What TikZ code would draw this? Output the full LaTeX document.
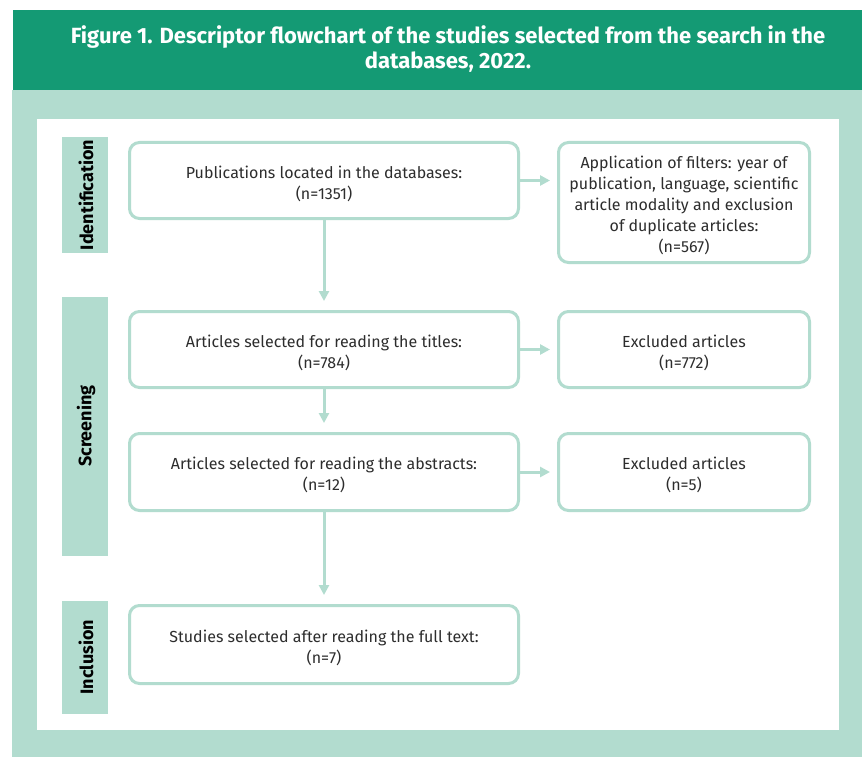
\documentclass[tikz,border=0pt]{standalone}
\usepackage{fontspec}
\setmainfont{Fira Sans}
\usetikzlibrary{arrows.meta}
\definecolor{hdrgreen}{RGB}{20,154,116}
\definecolor{mint}{RGB}{178,220,207}
\definecolor{txt}{RGB}{45,45,45}
\begin{document}
\begin{tikzpicture}[x=1pt,y=-1pt,
  flowbox/.style={draw=mint,line width=3pt,rounded corners=10pt,fill=white,inner sep=0pt},
  flowtext/.style={align=center,text=txt,font=\fontsize{16}{21}\selectfont,inner sep=0pt,yshift=-3pt},
  stagebar/.style={fill=mint,inner sep=0pt},
  stagetext/.style={rotate=90,font=\fontsize{18}{20}\selectfont\bfseries,text=black},
  flowarrow/.style={draw=mint,line width=3pt,-{Triangle[length=10pt,width=10pt]}}]
\useasboundingbox (0,0) rectangle (862,757);
% background panels
\fill[mint] (12,90) rectangle (862,757);
\fill[hdrgreen] (13,10) rectangle (862,90);
\fill[white] (37,119) rectangle (839,730);
\node[text=white,align=center,font=\fontsize{22}{25}\selectfont\bfseries] (title) at (448,49)
  {Figure 1. Descriptor flowchart of the studies selected from the search in the\\databases, 2022.};
% stage bars
\fill[stagebar] (62,137) rectangle (108,253);
\fill[stagebar] (62,297) rectangle (108,556);
\fill[stagebar] (62,601) rectangle (108,714);
\node[stagetext] (sid) at (86,195) {Identification};
\node[stagetext] (ssc) at (86,426) {Screening};
\node[stagetext] (sin) at (86,657) {Inclusion};
% main boxes
\node[flowbox,minimum width=389pt,minimum height=76pt,
  label={[flowtext]center:Publications located in the databases:\\(n=1351)}] (b1) at (324,180.5) {};
\node[flowbox,minimum width=389pt,minimum height=76pt,
  label={[flowtext]center:Articles selected for reading the titles:\\(n=784)}] (b2) at (324,349.5) {};
\node[flowbox,minimum width=389pt,minimum height=77pt,
  label={[flowtext]center:Articles selected for reading the abstracts:\\(n=12)}] (b3) at (324,472) {};
\node[flowbox,minimum width=389pt,minimum height=78pt,
  label={[flowtext]center:Studies selected after reading the full text:\\(n=7)}] (b4) at (324,644.5) {};
% right boxes
\node[flowbox,minimum width=251pt,minimum height=120pt,
  label={[flowtext]center:Application of filters: year of\\publication, language, scientific\\article modality and exclusion\\of duplicate articles:\\(n=567)}] (r1) at (684,202.5) {};
\node[flowbox,minimum width=251pt,minimum height=76pt,
  label={[flowtext]center:Excluded articles\\(n=772)}] (r2) at (684,349.5) {};
\node[flowbox,minimum width=251pt,minimum height=77pt,
  label={[flowtext]center:Excluded articles\\(n=5)}] (r3) at (684,472) {};
% arrows
\draw[flowarrow,shorten >=9pt] (b1.south) -- (b2.north);
\draw[flowarrow,shorten >=9pt] (b2.south) -- (b3.north);
\draw[flowarrow,shorten >=9pt] (b3.south) -- (b4.north);
\draw[flowarrow,shorten >=7pt] (b1.east) -- (b1.east -| r1.west);
\draw[flowarrow,shorten >=7pt] (b2.east) -- (r2.west);
\draw[flowarrow,shorten >=7pt] (b3.east) -- (r3.west);
\end{tikzpicture}
\end{document}
